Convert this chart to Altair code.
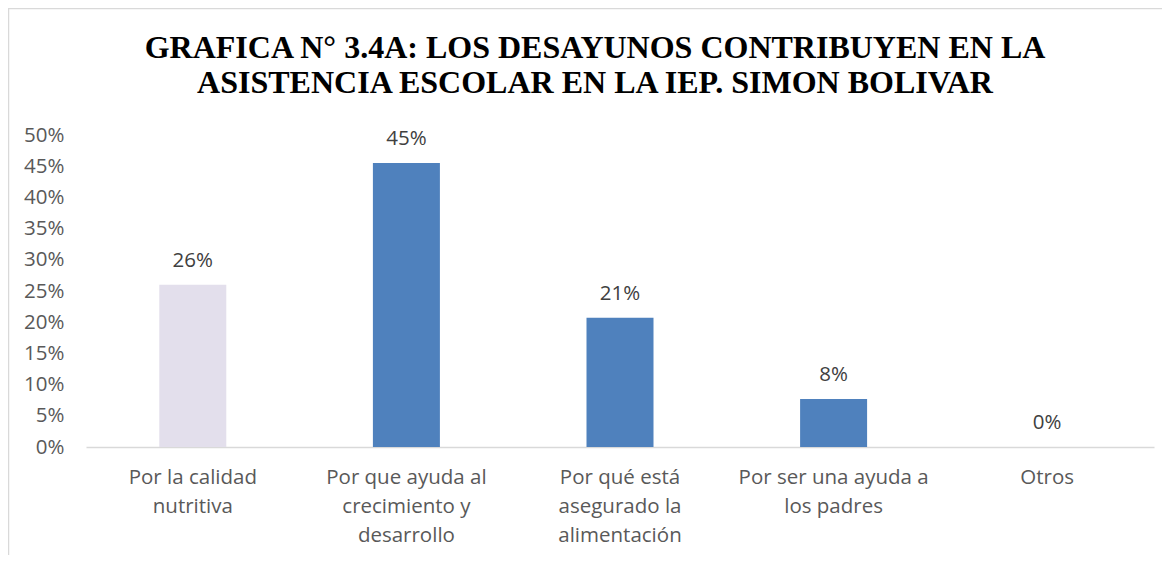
import altair as alt
import pandas as pd

categories = [
    "Por la calidad nutritiva",
    "Por que ayuda al crecimiento y desarrollo",
    "Por qué está asegurado la alimentación",
    "Por ser una ayuda a los padres",
    "Otros",
]
label_lines = [
    "Por la calidad|nutritiva",
    "Por que ayuda al|crecimiento y|desarrollo",
    "Por qué está|asegurado la|alimentación",
    "Por ser una ayuda a|los padres",
    "Otros",
]
values = [0.26, 0.455, 0.207, 0.077, 0.0]
labels = ["26%", "45%", "21%", "8%", "0%"]
bar_colors = ["#E3DFEC", "#4F81BD", "#4F81BD", "#4F81BD", "#4F81BD"]
y_ticks = [0, 0.05, 0.1, 0.15, 0.2, 0.25, 0.3, 0.35, 0.4, 0.45, 0.5]
title_lines = [
    "GRAFICA N° 3.4A: LOS DESAYUNOS CONTRIBUYEN EN LA",
    "ASISTENCIA ESCOLAR EN LA IEP. SIMON BOLIVAR",
]

df = pd.DataFrame({
    "cat": label_lines,
    "value": values,
    "label": labels,
    "color": bar_colors,
})

W, H = 1068, 312
FONT = "Open Sans"
FS = 20.5

x_enc = alt.X(
    "cat:N",
    sort=label_lines,
    scale=alt.Scale(paddingInner=0, paddingOuter=0),
    axis=alt.Axis(
        title=None,
        labelExpr="split(datum.label, '|')",
        labelAngle=0,
        labelFont=FONT,
        labelFontSize=FS,
        labelColor="#595959",
        labelPadding=20,
        labelLineHeight=29,
        labelBaseline="top",
        ticks=False,
        domainColor="#D9D9D9",
        domainWidth=1.5,
        labelLimit=300,
    ),
)
y_enc = alt.Y(
    "value:Q",
    scale=alt.Scale(domain=[0, 0.5], nice=False),
    axis=alt.Axis(
        title=None,
        values=y_ticks,
        format=".0%",
        grid=False,
        domain=False,
        ticks=False,
        labelOverlap=False,
        labelFont=FONT,
        labelFontSize=FS,
        labelColor="#595959",
        labelPadding=22,
    ),
)

bars = alt.Chart(df).mark_bar(size=67).encode(
    x=x_enc,
    y=y_enc,
    color=alt.Color("color:N", scale=None),
)

text = alt.Chart(df).mark_text(
    baseline="bottom", dy=-14, font=FONT, fontSize=FS, color="#404040"
).encode(
    x=x_enc,
    y=y_enc,
    text="label:N",
)

border_left = alt.Chart(pd.DataFrame({"a": [0]})).mark_rule(
    color="#D9D9D9", strokeWidth=1.5
).encode(x=alt.value(-77.5), y=alt.value(-127), y2=alt.value(H + 110))
border_top = alt.Chart(pd.DataFrame({"a": [0]})).mark_rule(
    color="#D9D9D9", strokeWidth=1.5
).encode(x=alt.value(-78), x2=alt.value(W + 20), y=alt.value(-126.5))

chart = alt.layer(border_left, border_top, bars, text).properties(
    width=W,
    height=H,
    background="white",
    autosize=alt.AutoSizeParams(type="none"),
    padding={"left": 78, "top": 127, "right": 8, "bottom": 108},
    title=alt.Title(
        text=title_lines,
        font="Liberation Serif",
        fontSize=32,
        fontWeight="bold",
        color="#000000",
        anchor="middle",
        baseline="bottom",
        dx=-25,
        offset=-125,
        lineHeight=35,
    ),
).configure_view(stroke=None)

chart.save("out.html", embed_options={"renderer": "svg", "actions": False})
